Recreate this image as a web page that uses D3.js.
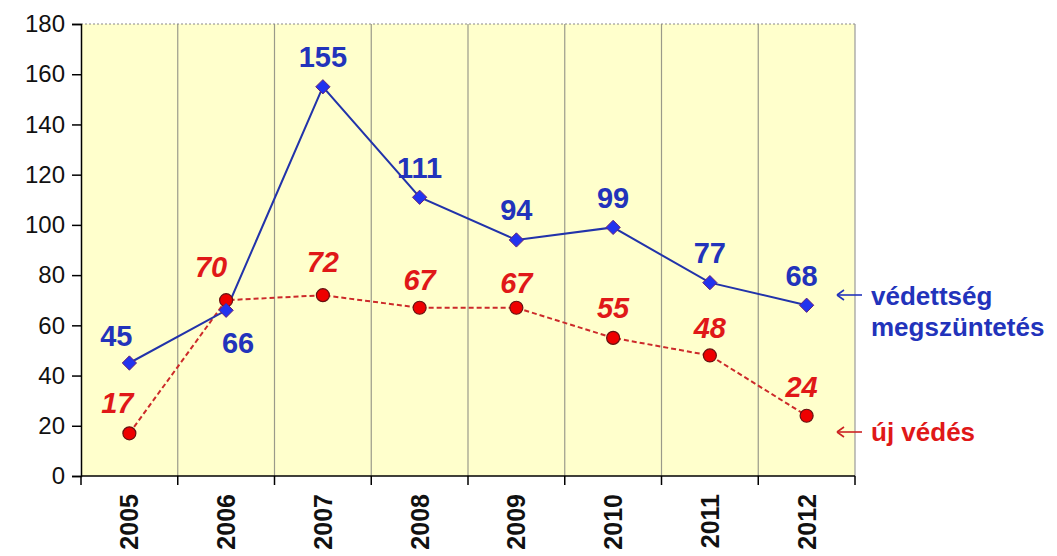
<!DOCTYPE html>
<html>
<head>
<meta charset="utf-8">
<script src="https://cdn.jsdelivr.net/npm/d3@7"></script>
<style>
  body { margin: 0; background: #fff; }
  svg { font-family: Arial, "Liberation Sans", sans-serif; }
</style>
</head>
<body>
<script>
// Data
var years = ["2005", "2006", "2007", "2008", "2009", "2010", "2011", "2012"];
var megszuntetes = [45, 66, 155, 111, 94, 99, 77, 68];
var ujVedes = [17, 70, 72, 67, 67, 55, 48, 24];
var yTicks = [0, 20, 40, 60, 80, 100, 120, 140, 160, 180];

// label nudges (dx, dy) relative to each point
var blueNudge = [[-13, -27], [12, 32], [0, -30], [0, -30], [0, -30], [0, -30], [0, -30], [-5, -30]];
var redNudge = [[-12, -31], [-15, -34], [0, -34], [0, -28], [0, -25], [0, -30], [0, -28], [-5, -29]];

var margin = {top: 24, right: 202, bottom: 80, left: 81},
    width = 1057 - margin.left - margin.right,
    height = 556 - margin.top - margin.bottom;

var svg = d3.select("body").append("svg")
    .attr("width", 1057)
    .attr("height", 556);

var g = svg.append("g")
    .attr("transform", "translate(" + margin.left + "," + margin.top + ")");

var xScale = d3.scaleBand().domain(years).range([0, width]);
var yScale = d3.scaleLinear().domain([0, 180]).range([height, 0]);

// plot background
g.append("rect")
    .attr("width", width)
    .attr("height", height)
    .attr("fill", "#ffffcc");

// vertical grid lines at category boundaries
g.selectAll(".vgrid")
    .data(years.slice(1))
    .enter()
    .append("line")
    .attr("x1", function(d) { return xScale(d); })
    .attr("x2", function(d) { return xScale(d); })
    .attr("y1", 0)
    .attr("y2", height)
    .attr("stroke", "#9a9a8a")
    .attr("stroke-width", 1.2);

// top dashed border and right border
g.append("line")
    .attr("x1", 0).attr("x2", width)
    .attr("y1", 0).attr("y2", 0)
    .attr("stroke", "#8a8a8a")
    .attr("stroke-dasharray", "2,2");
g.append("line")
    .attr("x1", width).attr("x2", width)
    .attr("y1", 0).attr("y2", height)
    .attr("stroke", "#9a9a9a")
    .attr("stroke-width", 1.2);

// y axis
var yAxis = d3.axisLeft(yScale).tickValues(yTicks).tickSize(9).tickPadding(7);
var yG = g.append("g").call(yAxis);
yG.select(".domain").attr("stroke", "#000").attr("stroke-width", 1.5);
yG.selectAll(".tick line").attr("stroke", "#000").attr("stroke-width", 1.5);
yG.selectAll("text")
    .attr("font-size", "24px")
    .attr("font-family", "Arial, 'Liberation Sans', sans-serif")
    .attr("fill", "#111");

// x axis: ticks at band boundaries
var xG = g.append("g").attr("transform", "translate(0," + height + ")");
xG.append("line")
    .attr("x1", 0).attr("x2", width)
    .attr("stroke", "#000").attr("stroke-width", 1.5);
var bounds = years.map(function(d) { return xScale(d); }).concat([width]);
xG.selectAll(".xtick")
    .data(bounds)
    .enter()
    .append("line")
    .attr("x1", function(d) { return d; })
    .attr("x2", function(d) { return d; })
    .attr("y1", 0).attr("y2", 9)
    .attr("stroke", "#000").attr("stroke-width", 1.5);
xG.selectAll(".xlabel")
    .data(years)
    .enter()
    .append("text")
    .text(function(d) { return d; })
    .attr("transform", function(d) {
        return "translate(" + (xScale(d) + xScale.bandwidth() / 2 + 9) + ",18) rotate(-90)";
    })
    .attr("text-anchor", "end")
    .attr("font-size", "25px")
    .attr("font-weight", "bold")
    .attr("fill", "#111");

var cx = function(i) { return xScale(years[i]) + xScale.bandwidth() / 2; };

var line = d3.line()
    .x(function(d, i) { return cx(i); })
    .y(function(d) { return yScale(d); });

// red dashed series (új védés)
g.append("path")
    .datum(ujVedes)
    .attr("d", line)
    .attr("fill", "none")
    .attr("stroke", "#cc2a2a")
    .attr("stroke-width", 2)
    .attr("stroke-dasharray", "5,3");

// blue solid series (védettség megszüntetés)
g.append("path")
    .datum(megszuntetes)
    .attr("d", line)
    .attr("fill", "none")
    .attr("stroke", "#2233aa")
    .attr("stroke-width", 2);

g.selectAll(".redpt")
    .data(ujVedes)
    .enter()
    .append("circle")
    .attr("cx", function(d, i) { return cx(i); })
    .attr("cy", function(d) { return yScale(d); })
    .attr("r", 6.5)
    .attr("fill", "#ee0000")
    .attr("stroke", "#661111")
    .attr("stroke-width", 1.2);

g.selectAll(".bluept")
    .data(megszuntetes)
    .enter()
    .append("path")
    .attr("d", d3.symbol().type(d3.symbolDiamond2).size(130))
    .attr("transform", function(d, i) {
        return "translate(" + cx(i) + "," + yScale(d) + ")";
    })
    .attr("fill", "#2233ee")
    .attr("stroke", "#662277")
    .attr("stroke-width", 1);

// value labels
g.selectAll(".bluelab")
    .data(megszuntetes)
    .enter()
    .append("text")
    .text(function(d) { return d; })
    .attr("x", function(d, i) { return cx(i) + blueNudge[i][0]; })
    .attr("y", function(d, i) { return yScale(d) + blueNudge[i][1]; })
    .attr("dy", "0.36em")
    .attr("text-anchor", "middle")
    .attr("font-size", "29px")
    .attr("font-weight", "bold")
    .attr("fill", "#2233bb");

g.selectAll(".redlab")
    .data(ujVedes)
    .enter()
    .append("text")
    .text(function(d) { return d; })
    .attr("x", function(d, i) { return cx(i) + redNudge[i][0]; })
    .attr("y", function(d, i) { return yScale(d) + redNudge[i][1]; })
    .attr("dy", "0.36em")
    .attr("text-anchor", "middle")
    .attr("font-size", "29px")
    .attr("font-weight", "bold")
    .attr("font-style", "italic")
    .attr("fill", "#e01818");

// series annotations on the right
var ann = svg.append("g")
    .attr("font-weight", "bold")
    .attr("font-size", "26px");

function arrow(y, color) {
    svg.append("line")
        .attr("x1", 862).attr("x2", 837)
        .attr("y1", y).attr("y2", y)
        .attr("stroke", color).attr("stroke-width", 1.6);
    svg.append("path")
        .attr("d", "M837," + y + " l7,-5 M837," + y + " l7,5")
        .attr("stroke", color).attr("stroke-width", 1.6)
        .attr("fill", "none");
}
arrow(295, "#2233bb");
arrow(432, "#cc2222");

ann.append("text")
    .attr("x", 871).attr("y", 296).attr("dy", "0.35em")
    .attr("fill", "#2233bb")
    .text("védettség");
ann.append("text")
    .attr("x", 871).attr("y", 327).attr("dy", "0.35em")
    .attr("fill", "#2233bb")
    .text("megszüntetés");
ann.append("text")
    .attr("x", 871).attr("y", 432).attr("dy", "0.35em")
    .attr("fill", "#e01818")
    .text("új védés");
</script>
</body>
</html>
